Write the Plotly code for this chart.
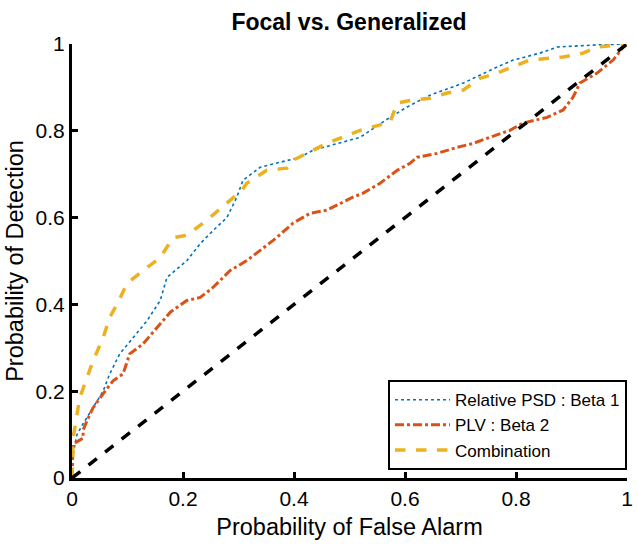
import plotly.graph_objects as go

psd_x = [0, 0.002, 0.009, 0.02, 0.038, 0.056, 0.068, 0.086, 0.11, 0.135, 0.159, 0.171, 0.207, 0.231, 0.254, 0.279, 0.297, 0.308, 0.339, 0.387, 0.411, 0.434, 0.488, 0.519, 0.573, 0.604, 0.645, 0.705, 0.766, 0.795, 0.843, 0.874, 0.946, 1.0]
psd_y = [0, 0.055, 0.10, 0.125, 0.162, 0.20, 0.24, 0.286, 0.323, 0.362, 0.409, 0.462, 0.501, 0.540, 0.570, 0.600, 0.647, 0.686, 0.716, 0.732, 0.739, 0.755, 0.774, 0.785, 0.831, 0.855, 0.882, 0.91, 0.947, 0.963, 0.979, 0.993, 0.998, 1.0]

plv_x = [0, 0.002, 0.02, 0.02, 0.027, 0.038, 0.056, 0.074, 0.092, 0.104, 0.128, 0.153, 0.177, 0.207, 0.231, 0.254, 0.285, 0.315, 0.339, 0.369, 0.398, 0.429, 0.459, 0.483, 0.506, 0.524, 0.555, 0.586, 0.609, 0.622, 0.658, 0.694, 0.723, 0.753, 0.789, 0.813, 0.856, 0.885, 0.903, 0.915, 0.946, 0.975, 0.993, 1.0]
plv_y = [0, 0.078, 0.092, 0.11, 0.132, 0.162, 0.194, 0.224, 0.24, 0.286, 0.309, 0.346, 0.382, 0.409, 0.416, 0.439, 0.478, 0.501, 0.524, 0.554, 0.587, 0.610, 0.617, 0.633, 0.647, 0.656, 0.679, 0.709, 0.725, 0.739, 0.748, 0.762, 0.771, 0.785, 0.801, 0.818, 0.831, 0.848, 0.878, 0.910, 0.933, 0.963, 0.993, 1.0]

comb_x = [0, 0.002, 0.014, 0.027, 0.038, 0.056, 0.068, 0.081, 0.099, 0.128, 0.159, 0.182, 0.207, 0.243, 0.279, 0.306, 0.315, 0.351, 0.387, 0.398, 0.434, 0.459, 0.519, 0.555, 0.573, 0.586, 0.614, 0.645, 0.676, 0.705, 0.735, 0.766, 0.795, 0.825, 0.885, 0.921, 0.946, 1.0]
comb_y = [0, 0.092, 0.185, 0.231, 0.27, 0.323, 0.37, 0.40, 0.448, 0.478, 0.508, 0.554, 0.559, 0.594, 0.633, 0.663, 0.679, 0.709, 0.714, 0.732, 0.755, 0.771, 0.801, 0.813, 0.82, 0.864, 0.871, 0.875, 0.887, 0.894, 0.921, 0.933, 0.947, 0.963, 0.970, 0.979, 0.993, 1.0]

chance_x = [0, 1]
chance_y = [0, 1]

ticks = [0, 0.2, 0.4, 0.6, 0.8, 1]
tick_labels = ["0", "0.2", "0.4", "0.6", "0.8", "1"]

FONT = "Liberation Sans, Arial, Helvetica"

fig = go.Figure()
fig.add_trace(go.Scatter(x=psd_x, y=psd_y, mode="lines", name="Relative PSD : Beta 1",
                         line=dict(color="#0072BD", width=1.6, dash="dot")))
fig.add_trace(go.Scatter(x=plv_x, y=plv_y, mode="lines", name="PLV : Beta 2",
                         line=dict(color="#D95319", width=3, dash="dashdot")))
fig.add_trace(go.Scatter(x=comb_x, y=comb_y, mode="lines", name="Combination",
                         line=dict(color="#EDB120", width=3.5, dash="dash")))
fig.add_trace(go.Scatter(x=chance_x, y=chance_y, mode="lines", showlegend=False,
                         line=dict(color="black", width=3.5, dash="dash")))

axis_common = dict(range=[0, 1], tickvals=ticks, ticktext=tick_labels, showgrid=False,
                   zeroline=False, showline=True, linecolor="black", linewidth=3,
                   ticks="inside", ticklen=6, tickwidth=2.5, tickcolor="black",
                   automargin=False,
                   tickfont=dict(family=FONT, size=21, color="black"))

fig.update_layout(
    width=638, height=546,
    margin=dict(l=72, r=11, t=44, b=68),
    paper_bgcolor="white", plot_bgcolor="white",
    title=dict(text="<b>Focal vs. Generalized</b>", x=0.547, xanchor="center",
               y=0.974, yanchor="top",
               font=dict(family=FONT, size=23, color="black")),
    xaxis=dict(**axis_common, title=dict(text="Probability of False Alarm", standoff=10,
               font=dict(family=FONT, size=23.5, color="black"))),
    yaxis=dict(**axis_common, title=dict(text="Probability of Detection", standoff=6,
               font=dict(family=FONT, size=23.5, color="black"))),
    legend=dict(x=1.0, xanchor="right", y=0.018, yanchor="bottom",
                bgcolor="white", bordercolor="black", borderwidth=2,
                font=dict(family=FONT, size=17, color="black"),
                tracegroupgap=0, itemwidth=55),
)

fig.write_html("out.html", config={"displayModeBar": False},
               post_script="document.body.style.margin='0';document.body.style.padding='0';")
